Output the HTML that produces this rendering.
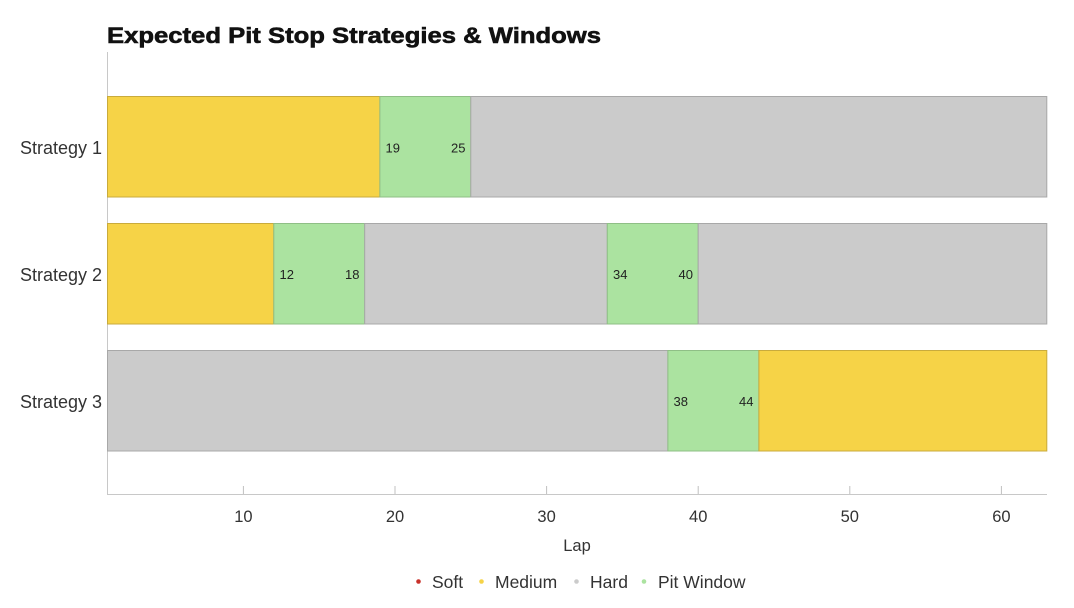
<!DOCTYPE html>
<html>
<head>
<meta charset="utf-8">
<style>
  html, body { margin: 0; padding: 0; background: #ffffff; }
  svg { display: block; }
  text { font-family: "Liberation Sans", sans-serif; }
</style>
</head>
<body>
<svg width="1074" height="608" viewBox="0 0 1074 608" xmlns="http://www.w3.org/2000/svg">
  <rect x="0" y="0" width="1074" height="608" fill="#ffffff"/>

  <!-- Title -->
  <text x="107" y="43" font-size="22.5" font-weight="bold" fill="#111" stroke="#111" stroke-width="0.6" textLength="494" lengthAdjust="spacingAndGlyphs">Expected Pit Stop Strategies &amp; Windows</text>

  <!-- Axes -->
  <line x1="107.5" y1="52" x2="107.5" y2="495" stroke="#c8c8c8" stroke-width="1"/>
  <line x1="107" y1="494.5" x2="1047" y2="494.5" stroke="#c8c8c8" stroke-width="1"/>

  <!-- Ticks -->
  <g stroke="#c0c0c0" stroke-width="1">
    <line x1="243.4" y1="486" x2="243.4" y2="494"/>
    <line x1="395.0" y1="486" x2="395.0" y2="494"/>
    <line x1="546.6" y1="486" x2="546.6" y2="494"/>
    <line x1="698.2" y1="486" x2="698.2" y2="494"/>
    <line x1="849.8" y1="486" x2="849.8" y2="494"/>
    <line x1="1001.4" y1="486" x2="1001.4" y2="494"/>
  </g>
  <g font-size="16.5" fill="#333" text-anchor="middle">
    <text x="243.4" y="522">10</text>
    <text x="395.0" y="522">20</text>
    <text x="546.6" y="522">30</text>
    <text x="698.2" y="522">40</text>
    <text x="849.8" y="522">50</text>
    <text x="1001.4" y="522">60</text>
  </g>
  <text x="577" y="551" font-size="16.5" fill="#333" text-anchor="middle">Lap</text>

  <!-- Y labels -->
  <g font-size="18" fill="#333" text-anchor="end">
    <text x="102" y="154">Strategy 1</text>
    <text x="102" y="281">Strategy 2</text>
    <text x="102" y="408">Strategy 3</text>
  </g>

  <!-- Strategy 1 -->
  <g stroke-width="1">
    <rect x="107.5" y="96.5" width="272.4" height="100.5" fill="#f6d347" stroke="#c9ab3c"/>
    <rect x="379.9" y="96.5" width="90.9" height="100.5" fill="#abe3a0" stroke="#8fbf86"/>
    <rect x="470.8" y="96.5" width="576" height="100.5" fill="#cbcbcb" stroke="#a8a8a8"/>
  </g>
  <!-- Strategy 2 -->
  <g stroke-width="1">
    <rect x="107.5" y="223.5" width="166.3" height="100.5" fill="#f6d347" stroke="#c9ab3c"/>
    <rect x="273.8" y="223.5" width="90.9" height="100.5" fill="#abe3a0" stroke="#8fbf86"/>
    <rect x="364.7" y="223.5" width="242.6" height="100.5" fill="#cbcbcb" stroke="#a8a8a8"/>
    <rect x="607.3" y="223.5" width="90.9" height="100.5" fill="#abe3a0" stroke="#8fbf86"/>
    <rect x="698.2" y="223.5" width="348.6" height="100.5" fill="#cbcbcb" stroke="#a8a8a8"/>
  </g>
  <!-- Strategy 3 -->
  <g stroke-width="1">
    <rect x="107.5" y="350.5" width="560.4" height="100.5" fill="#cbcbcb" stroke="#a8a8a8"/>
    <rect x="667.9" y="350.5" width="91" height="100.5" fill="#abe3a0" stroke="#8fbf86"/>
    <rect x="758.9" y="350.5" width="287.9" height="100.5" fill="#f6d347" stroke="#c9ab3c"/>
  </g>

  <!-- Window labels -->
  <g font-size="13" fill="#222">
    <text x="385.5" y="152.5">19</text>
    <text x="465.5" y="152.5" text-anchor="end">25</text>
    <text x="279.5" y="279">12</text>
    <text x="359.5" y="279" text-anchor="end">18</text>
    <text x="613" y="279">34</text>
    <text x="693" y="279" text-anchor="end">40</text>
    <text x="673.5" y="406">38</text>
    <text x="753.5" y="406" text-anchor="end">44</text>
  </g>

  <!-- Legend -->
  <circle cx="418.5" cy="581.5" r="2.3" fill="#c8312a"/>
  <text x="432" y="588" font-size="17.5" fill="#333">Soft</text>
  <circle cx="481.5" cy="581.5" r="2.3" fill="#f6d347"/>
  <text x="495" y="588" font-size="17.5" fill="#333">Medium</text>
  <circle cx="576.5" cy="581.5" r="2.3" fill="#cbcbcb"/>
  <text x="590" y="588" font-size="17.5" fill="#333">Hard</text>
  <circle cx="644" cy="581.5" r="2.3" fill="#abe3a0"/>
  <text x="658" y="588" font-size="17.5" fill="#333">Pit Window</text>
</svg>
</body>
</html>
